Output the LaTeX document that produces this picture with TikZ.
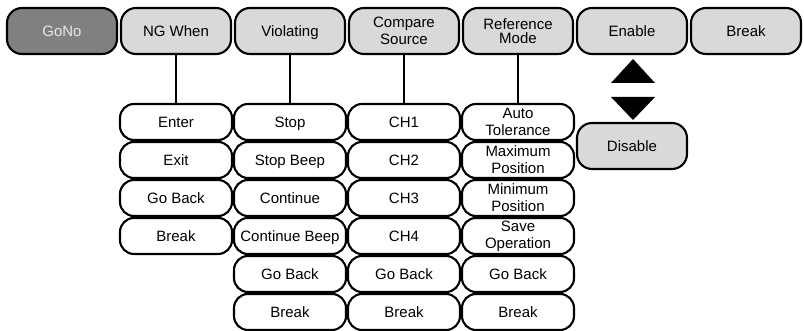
\documentclass[tikz,border=0pt]{standalone}
\usepackage{fontspec}
\setmainfont{Liberation Sans}
\definecolor{boxgray}{HTML}{D9D9D9}
\definecolor{darkbox}{HTML}{808080}
\definecolor{lighttext}{HTML}{E8E8E8}
\tikzset{
  topbox/.style={draw=black, line width=2.1pt, rounded corners=15pt, fill=boxgray,
    minimum width=110pt, minimum height=46pt, inner sep=0pt, align=center,
    font=\fontsize{15}{17}\selectfont},
  oneline/.style={text height=10.8pt, text depth=0pt},
  activebox/.style={topbox, oneline, fill=darkbox, text=lighttext},
  subbox/.style={draw=black, line width=2.1pt, rounded corners=14pt, fill=white,
    minimum width=112pt, minimum height=36pt, inner sep=0pt, align=center,
    font=\fontsize{15}{17}\selectfont},
  link/.style={line width=2.1pt}
}
\begin{document}
\begin{tikzpicture}[x=1pt,y=-1pt]
\useasboundingbox (0,0) rectangle (804,331);
% top row
\node[activebox] (gono) at (62,31) {GoNo};
\node[topbox, oneline] (ng) at (176,31) {NG When};
\node[topbox, oneline] (viol) at (290,31) {Violating};
\node[topbox] (cmp) at (404,31) {Compare\\Source};
\node[topbox] (ref) at (518,31) {\raisebox{-4pt}{\shortstack{Reference\\Mode}}};
\node[topbox, oneline] (en) at (632,31) {Enable};
\node[topbox, oneline] (brk) at (746,31) {Break};
% NG When column
\node[subbox, oneline] (ng1) at (176,122) {Enter};
\node[subbox, oneline] (ng2) at (176,160) {Exit};
\node[subbox, oneline] (ng3) at (176,198) {Go Back};
\node[subbox, oneline] (ng4) at (176,236) {Break};
% Violating column
\node[subbox, oneline] (v1) at (290,122) {Stop};
\node[subbox, oneline] (v2) at (290,160) {Stop Beep};
\node[subbox, oneline] (v3) at (290,198) {Continue};
\node[subbox, oneline] (v4) at (290,236) {Continue Beep};
\node[subbox, oneline] (v5) at (290,274) {Go Back};
\node[subbox, oneline] (v6) at (290,312) {Break};
% Compare Source column
\node[subbox, oneline] (c1) at (404,122) {CH1};
\node[subbox, oneline] (c2) at (404,160) {CH2};
\node[subbox, oneline] (c3) at (404,198) {CH3};
\node[subbox, oneline] (c4) at (404,236) {CH4};
\node[subbox, oneline] (c5) at (404,274) {Go Back};
\node[subbox, oneline] (c6) at (404,312) {Break};
% Reference Mode column
\node[subbox] (r1) at (518,122) {Auto\\Tolerance};
\node[subbox] (r2) at (518,160) {Maximum\\Position};
\node[subbox] (r3) at (518,198) {Minimum\\Position};
\node[subbox] (r4) at (518,236) {Save\\Operation};
\node[subbox, oneline] (r5) at (518,274) {Go Back};
\node[subbox, oneline] (r6) at (518,312) {Break};
% Disable
\node[topbox, oneline] (dis) at (632,146) {Disable};
% connectors
\draw[link] (ng.south) -- (ng1.north);
\draw[link] (viol.south) -- (v1.north);
\draw[link] (cmp.south) -- (c1.north);
\draw[link] (ref.south) -- (r1.north);
% toggle arrows
\fill (611,83) -- (655,83) -- (633,59) -- cycle;
\fill (611,97) -- (655,97) -- (633,120) -- cycle;
\end{tikzpicture}
\end{document}
